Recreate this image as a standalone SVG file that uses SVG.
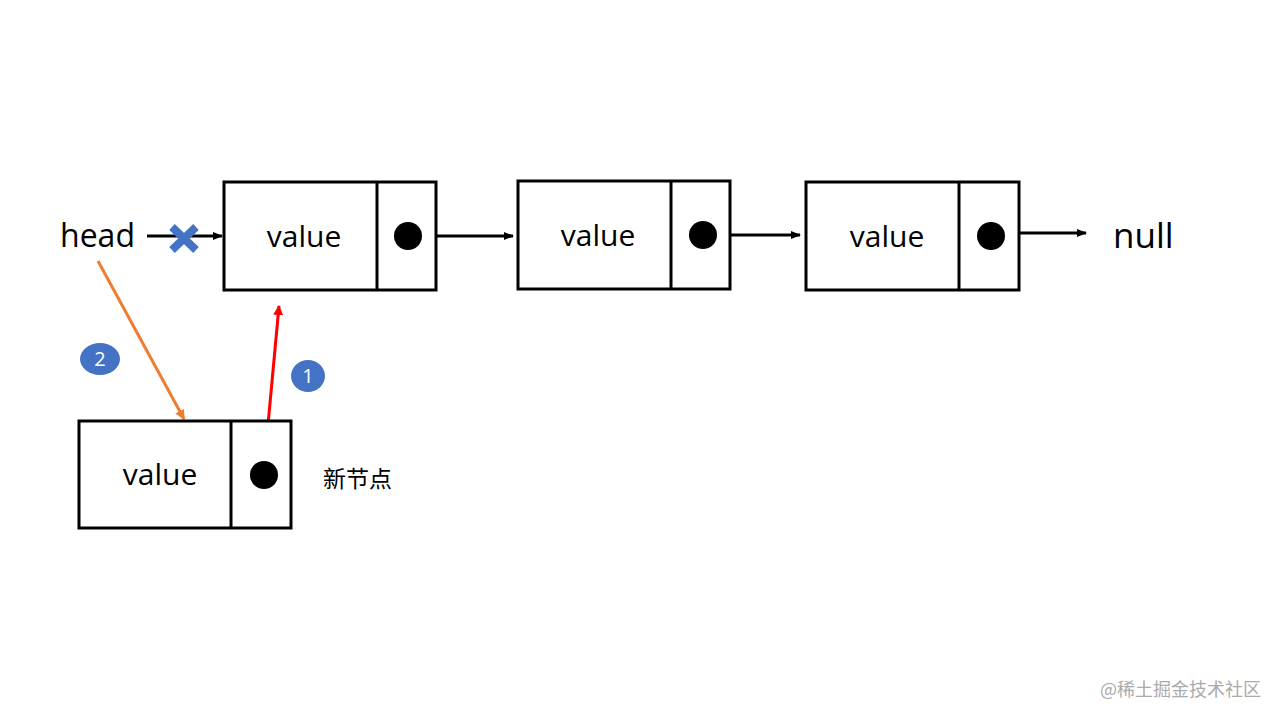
<svg xmlns="http://www.w3.org/2000/svg" width="1280" height="720" viewBox="0 0 1280 720">
<defs>
<marker id="ah" markerWidth="10" markerHeight="8" refX="9" refY="4" orient="auto" markerUnits="userSpaceOnUse">
<path d="M0,0 L10,4 L0,8 Z" fill="#000"/>
</marker>
<marker id="ahr" markerWidth="10" markerHeight="10" refX="9" refY="5" orient="auto" markerUnits="userSpaceOnUse">
<path d="M0,0 L10,5 L0,10 Z" fill="#ff0000"/>
</marker>
<marker id="aho" markerWidth="10" markerHeight="10" refX="9" refY="5" orient="auto" markerUnits="userSpaceOnUse">
<path d="M0,0 L10,5 L0,10 Z" fill="#ed7d31"/>
</marker>
</defs>
<style>
.box{fill:#fff;stroke:#000;stroke-width:3}
.div{stroke:#000;stroke-width:3}
.dot{fill:#000}
.val{font-family:"Open Sans","Noto Sans","Liberation Sans",sans-serif;font-size:30px;fill:#000;text-anchor:middle}
.big{font-family:"Open Sans","Noto Sans","Liberation Sans",sans-serif;font-size:32px;fill:#000}
.link{stroke:#000;stroke-width:3;fill:none}
.num{font-family:"Open Sans","Liberation Sans",sans-serif;font-size:20px;fill:#fff;text-anchor:middle}
</style>
<rect width="1280" height="720" fill="#fff"/>
<g id="connectors">
<line class="link" x1="147" y1="236" x2="222" y2="236" marker-end="url(#ah)"/>
<line class="link" x1="408" y1="236" x2="513" y2="236" marker-end="url(#ah)"/>
<line class="link" x1="703" y1="235" x2="800" y2="235" marker-end="url(#ah)"/>
<line class="link" x1="991" y1="233" x2="1086" y2="233" marker-end="url(#ah)"/>
<line x1="98" y1="261" x2="184" y2="419" stroke="#ed7d31" stroke-width="3" marker-end="url(#aho)"/>
<line x1="264" y1="468" x2="279" y2="306" stroke="#ff0000" stroke-width="3" marker-end="url(#ahr)"/>
</g>
<g id="node1">
<rect class="box" x="224" y="182" width="212" height="108"/>
<line class="div" x1="377" y1="182" x2="377" y2="290"/>
<text class="val" x="304" y="247">value</text>
<circle class="dot" cx="408" cy="236" r="14"/>
</g>
<g id="node2">
<rect class="box" x="518" y="181" width="212" height="108"/>
<line class="div" x1="671" y1="181" x2="671" y2="289"/>
<text class="val" x="598" y="246">value</text>
<circle class="dot" cx="703" cy="235" r="14"/>
</g>
<g id="node3">
<rect class="box" x="806" y="182" width="213" height="108"/>
<line class="div" x1="959" y1="182" x2="959" y2="290"/>
<text class="val" x="887" y="247">value</text>
<circle class="dot" cx="991" cy="236" r="14"/>
</g>
<g id="newnode">
<rect class="box" x="79" y="421" width="212" height="107"/>
<line class="div" x1="231" y1="421" x2="231" y2="528"/>
<text class="val" x="160" y="485">value</text>
<circle class="dot" cx="264" cy="475" r="14"/>
</g>
<g id="cross">
<path d="M172,227 L196,250 M196,227 L172,250" stroke="#4472c4" stroke-width="8" stroke-linecap="butt"/>
</g>
<g id="head"><text class="big" x="60" y="247">head</text></g>
<g id="null"><text class="big" x="1113" y="248" style="font-size:35px">null</text></g>
<g id="badge2">
<ellipse cx="100" cy="359" rx="20" ry="16" fill="#4472c4"/>
<text class="num" x="100" y="366">2</text>
</g>
<g id="badge1">
<ellipse cx="308" cy="376" rx="17" ry="16" fill="#4472c4"/>
<text class="num" x="308" y="383">1</text>
</g>
<text x="323" y="487" font-family="Noto Sans CJK SC,sans-serif" font-size="23" fill="#000">新节点</text>
<text x="1100" y="696" font-family="Noto Sans CJK SC,sans-serif" font-size="18" fill="#aaaaaa">@稀土掘金技术社区</text>
</svg>
